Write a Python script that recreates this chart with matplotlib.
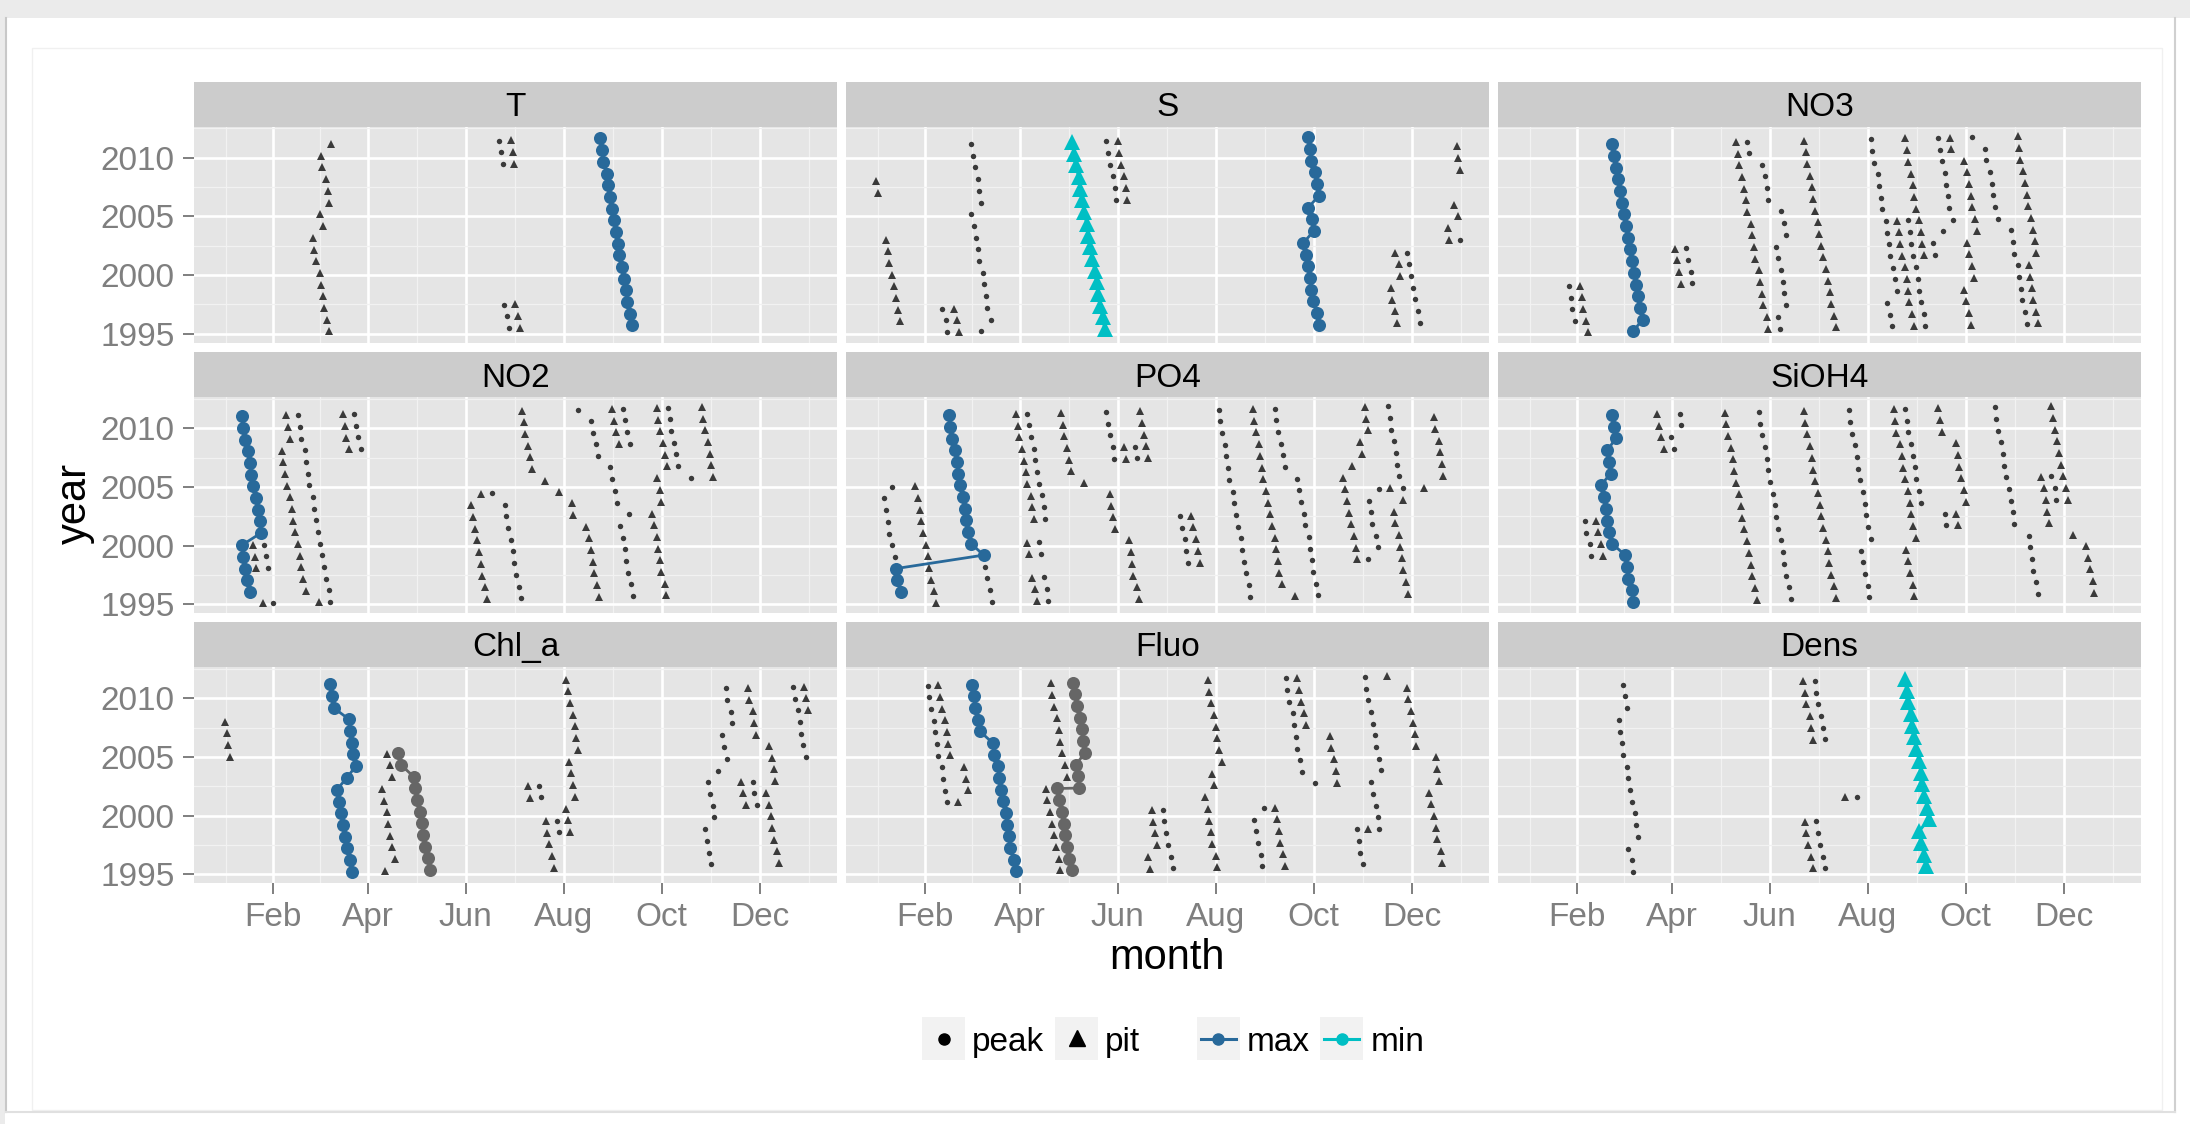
import matplotlib
matplotlib.use("Agg")
import matplotlib.pyplot as plt
from matplotlib.patches import Rectangle

plt.rcParams['font.family'] = ['Liberation Sans', 'DejaVu Sans']

# ---------------------------------------------------------------- data
# x = day of year of the event, y = year + fraction of the year.
# Each run: (kind, year of first (top) point, day-of-year of each point, one per year going down)
T_runs = [
    ('pit', 2011, [67.8, 62.0, 62.8, 64.9, 66.0, 67.1, 61.0, 63.1, 56.7, 57.8, 58.8, 61.0, 62.0, 63.1, 63.8, 65.6, 66.7]),
    ('peak', 2011, [172.9, 174.0, 175.1]),
    ('pit', 2011, [180.1, 181.2, 182.2]),
    ('peak', 1997, [175.8, 177.6, 178.7]),
    ('pit', 1997, [182.6, 184.7, 185.8]),
]
T_max = [(2011, [235.9, 236.6, 237.7, 239.8, 240.9, 241.6, 243.0, 244.5, 245.5, 246.6, 247.7, 249.1, 250.6, 251.6, 252.7, 254.5, 255.6])]

S_runs = [
    ('pit', 2008, [1.7, 2.8]),
    ('pit', 2003, [7.8, 8.9, 9.7, 11.7, 12.8, 13.9, 15.0, 16.7]),
    ('peak', 1997, [42.8, 44.8, 45.9]),
    ('pit', 1997, [50.1, 52.0, 53.1]),
    ('peak', 2011, [60.9, 62.0, 62.9, 64.8, 65.9, 67.1, 60.9, 62.6, 63.7, 64.8, 65.9, 67.9, 69.0, 69.8, 70.7, 72.9, 67.1]),
    ('peak', 2011, [145.0, 145.8, 146.9, 148.8, 150.0, 150.8]),
    ('pit', 2011, [151.9, 153.0, 154.1, 155.8, 156.9, 158.0]),
    ('pit', 2001, [324.7, 326.9, 328.0, 321.9, 322.7, 324.7, 326.1]),
    ('peak', 2001, [331.9, 333.6, 334.7, 335.8, 336.9, 338.9, 340.0]),
    ('pit', 2010, [363.1, 363.9, 365.0]),
    ('pit', 2005, [361.7, 363.9, 357.8, 358.6]),
    ('peak', 2002, [365.0]),
]
S_min = [(2011, [123.8, 124.6, 125.8, 127.7, 128.8, 129.9, 131.0, 132.7, 133.8, 134.9, 136.0, 137.7, 138.8, 139.7, 140.8, 142.7, 143.8])]
S_max = [(2011, [270.7, 271.8, 272.6, 274.9, 276.0, 277.1, 270.7, 272.9, 274.0, 267.6, 269.0, 270.7, 271.8, 272.6, 273.5, 276.0, 277.1])]

NO3_runs = [
    ('peak', 1999, [27.0, 28.1, 28.9, 30.9]),
    ('pit', 1999, [33.9, 35.1, 35.9, 37.8, 39.0]),
    ('pit', 2002, [93.0, 94.1, 95.8, 96.9]),
    ('peak', 2002, [100.0, 101.1, 103.0, 103.9]),
    ('pit', 2011, [131.1, 132.3, 133.1, 135.0, 136.2, 137.0, 138.1, 140.1, 141.2, 142.0, 143.1, 145.1, 146.2, 147.0, 148.1, 150.1, 150.9]),
    ('peak', 2011, [138.1, 139.2]),
    ('peak', 2009, [147.0, 149.0, 150.1, 150.9]),
    ('peak', 2005, [159.0, 160.9, 162.1]),
    ('peak', 2002, [155.9, 157.0, 159.0, 160.1, 160.9, 162.1]),
    ('peak', 1996, [157.0, 158.2]),
    ('pit', 2011, [173.2, 174.3, 175.1, 177.1, 178.2, 179.0, 180.2, 182.1, 182.9, 184.1, 185.2, 187.1, 188.2, 189.4, 190.2, 192.1, 193.3]),
    ('peak', 2011, [215.3, 215.8, 217.2, 219.2, 220.3, 221.1, 221.9]),
    ('peak', 2004, [224.2, 225.0, 226.1, 226.9, 228.9, 230.0, 231.1]),
    ('pit', 2004, [231.1, 232.2, 233.4, 234.2, 236.1, 237.3, 238.1]),
    ('peak', 2004, [238.1, 239.2, 240.0, 241.2, 243.1, 244.2, 245.1]),
    ('pit', 2004, [245.1, 246.2, 247.0, 248.1]),
    ('peak', 2002, [253.9, 255.1]),
    ('peak', 1997, [225.3, 226.9, 228.1]),
    ('pit', 1997, [238.9, 240.9, 242.0]),
    ('peak', 1997, [246.2, 247.8, 248.9]),
    ('pit', 2011, [236.1, 237.3, 238.1, 240.0, 241.2, 242.0, 243.1]),
    ('peak', 2011, [257.0, 257.8, 259.0, 260.9, 262.0, 262.8, 263.9, 265.9, 259.8]),
    ('pit', 2011, [264.0, 264.8]),
    ('pit', 2009, [272.9, 275.1, 276.0, 277.1, 277.9, 279.9, 281.0, 275.1, 276.0, 277.9, 279.0, 272.9, 274.0, 276.0, 277.1]),
    ('peak', 2011, [277.9, 286.0, 286.8, 289.1, 290.2, 291.0, 292.1, 294.0]),
    ('pit', 2011, [306.3, 307.2, 308.0, 310.0, 311.0, 312.2, 313.0, 315.0, 316.1, 316.9, 318.0]),
    ('peak', 2003, [302.1, 303.2, 304.1]),
    ('peak', 2000, [306.3, 307.2, 308.3, 309.1, 311.1, 312.2]),
    ('pit', 2000, [313.3, 314.1, 315.2, 316.1, 318.0, 319.1]),
]
NO3_max = [(2011, [53.7, 54.8, 56.0, 57.6, 58.7, 59.9, 61.0, 62.6, 64.0, 64.9, 66.0, 67.6, 68.8, 69.9, 71.0, 72.9, 66.8])]

NO2_runs = [
    ('pit', 2000, [19.6, 20.7, 21.7]),
    ('peak', 2000, [26.6, 27.7, 28.8]),
    ('pit', 1995, [25.5]),
    ('peak', 1995, [32.3]),
    ('pit', 2011, [40.1, 41.5, 42.8, 37.4, 38.5, 39.6, 40.6, 42.5, 43.6, 44.4, 45.5, 47.4, 48.5, 49.6, 50.6, 52.5, 60.4]),
    ('peak', 2011, [47.4, 48.5, 49.6, 51.7, 52.5, 53.6, 54.7, 56.6, 57.7, 58.7, 59.8, 61.4, 62.5, 63.6, 64.7, 66.6, 67.6]),
    ('pit', 2011, [75.7, 76.6, 77.6, 79.5]),
    ('peak', 2011, [82.5, 83.6, 84.7, 86.5]),
    ('pit', 2004, [161.3, 155.1, 156.5, 157.6, 159.2, 160.3, 161.3, 162.4, 164.3, 165.4]),
    ('peak', 2004, [168.1]),
    ('peak', 2003, [176.2, 177.3, 178.3, 180.1, 181.3, 182.1, 183.1, 185.1, 186.2]),
    ('pit', 2011, [187.3, 188.1, 189.1, 191.0, 192.1, 193.2, 201.3, 210.2]),
    ('pit', 2003, [218.3, 219.1, 226.9, 228.8, 229.9, 231.0, 232.1, 234.0, 235.0]),
    ('peak', 2011, [222.1, 230.2, 231.0, 232.9, 234.2, 242.1, 243.1, 245.0, 246.1, 253.9, 248.0, 249.9, 251.0, 252.1, 253.1, 255.0, 256.1]),
    ('pit', 2011, [243.1, 244.2, 245.3, 247.2]),
    ('peak', 2011, [250.2, 251.2, 252.3, 254.2]),
    ('pit', 2011, [270.9, 272.0, 273.1, 275.0, 276.1, 277.2]),
    ('peak', 2011, [278.2, 279.1, 280.1, 282.0, 283.1, 284.2]),
    ('pit', 2005, [270.9, 272.8, 273.9, 268.0, 269.1, 270.9, 272.0, 272.8, 273.9, 275.8, 276.9]),
    ('peak', 2005, [292.0]),
    ('pit', 2011, [299.0, 300.0, 300.9, 302.8, 303.9, 305.0, 306.0]),
]
NO2_max = [(2011, [12.6, 13.6, 14.5, 16.3, 17.4, 18.5, 19.6, 21.5, 22.6, 23.6, 24.4, 12.6, 13.6, 14.5, 15.5, 17.4])]

PO4_runs = [
    ('peak', 2005, [11.7, 6.6, 7.7, 8.7, 9.8, 11.7, 13.1]),
    ('pit', 2005, [25.8, 27.7, 28.8, 29.8, 30.6, 32.5, 33.6, 34.7, 35.8, 37.7, 38.8]),
    ('peak', 1998, [69.6, 70.7, 72.6, 73.7]),
    ('pit', 2011, [88.8, 89.6, 90.7, 92.6, 93.7, 94.8, 95.8, 97.7, 98.8, 99.6]),
    ('peak', 2011, [95.6, 96.6, 97.7, 99.6, 100.7, 101.8, 102.9, 104.7, 105.8, 106.7]),
    ('pit', 2000, [95.8, 96.9]),
    ('peak', 2000, [102.9, 104.0]),
    ('pit', 1997, [98.5, 100.7, 101.8]),
    ('peak', 1997, [105.8, 107.7, 108.8]),
    ('pit', 2011, [116.9, 117.7, 118.8, 120.7, 121.5, 122.6, 130.7]),
    ('peak', 2011, [144.8, 145.9, 147.0, 148.9, 149.7]),
    ('pit', 2008, [155.9, 157.0]),
    ('peak', 2008, [162.9, 164.0]),
    ('pit', 2008, [169.9, 171.0]),
    ('pit', 2011, [165.9, 167.0, 168.1]),
    ('pit', 2004, [147.0, 147.8, 148.9, 150.0]),
    ('pit', 2000, [158.9, 160.0, 161.0, 161.8, 164.0, 165.1]),
    ('peak', 2002, [190.8, 191.9, 193.8, 194.8, 195.9]),
    ('pit', 2002, [197.8, 198.9, 200.8, 201.9, 203.0]),
    ('peak', 2011, [214.9, 215.7, 216.8, 218.6, 219.7, 220.8, 221.6, 223.5, 224.6, 225.7, 226.8, 228.7, 229.7, 230.8, 231.6, 233.5, 234.6]),
    ('pit', 2011, [236.2, 237.0, 237.8, 239.7, 240.8, 241.6, 242.7, 244.6, 245.7, 246.8, 247.9, 249.8, 250.8, 251.9, 252.7, 254.6, 262.7]),
    ('peak', 2011, [249.8, 250.8, 251.9, 253.8, 254.9, 256.0, 263.8, 264.9, 266.0, 267.9, 268.9, 270.9, 271.9, 272.7, 273.8, 275.7, 276.8]),
    ('pit', 2011, [306.0, 306.8, 307.9, 303.0, 303.9, 297.9, 292.0, 293.8, 294.9, 296.0, 297.1, 299.0, 300.1, 300.9]),
    ('peak', 2003, [308.7, 309.8, 310.6, 313.1, 313.9, 307.9]),
    ('peak', 2011, [320.2, 321.3, 322.3, 324.0, 325.1, 326.1, 327.2, 329.4]),
    ('peak', 2004, [315.0]),
    ('pit', 2004, [321.8]),
    ('pit', 2003, [329.8, 323.9, 324.7, 326.9, 328.0, 329.1, 329.9, 331.8, 332.8]),
    ('pit', 2010, [348.8, 349.8, 352.0, 352.8, 353.9, 354.7]),
    ('pit', 2004, [342.8]),
]
PO4_max = [(2011, [46.9, 47.7, 48.8, 50.7, 51.7, 52.8, 53.6, 55.8, 56.9, 57.7, 58.8, 60.7, 68.5, 13.9, 14.7, 16.9])]

SiOH4_runs = [
    ('peak', 2002, [37.0, 37.8, 39.8, 40.9]),
    ('pit', 2002, [44.0, 44.8, 46.8, 47.9]),
    ('pit', 2011, [82.1, 83.0, 84.1, 86.0]),
    ('peak', 2011, [96.1, 96.9, 90.8, 92.7]),
    ('pit', 2011, [124.2, 125.0, 126.1, 128.1, 129.2, 130.0, 131.1, 133.1, 134.2, 135.0, 136.2, 138.1, 139.2, 140.1, 141.2, 143.1, 144.0]),
    ('peak', 2011, [145.1, 145.9, 147.0, 149.0, 150.1, 150.9, 152.0, 154.0, 155.1, 156.2, 157.0, 159.0, 160.1, 160.9, 162.1, 164.0, 165.1]),
    ('pit', 2011, [173.2, 174.0, 175.1, 177.1, 178.2, 179.0, 180.2, 182.1, 183.2, 184.1, 185.2, 187.1, 188.2, 189.1, 190.2, 192.1, 193.3]),
    ('peak', 2011, [201.1, 202.2, 203.0, 205.0, 206.1, 206.9, 208.0, 210.0, 211.1, 212.2, 213.0, 215.0, 208.8, 210.0, 211.1, 213.0, 213.9]),
    ('pit', 2011, [229.2, 230.0, 230.9, 233.1, 234.2, 235.0, 236.1, 238.1, 239.2, 240.0, 241.2, 243.1, 237.0, 238.1, 239.2, 241.2, 242.0]),
    ('peak', 2011, [236.1, 237.3, 238.1, 240.0, 241.2, 242.3, 243.1, 245.1, 246.2]),
    ('pit', 2011, [257.0, 258.1, 259.0]),
    ('pit', 2008, [268.2, 269.3, 270.1, 271.2, 272.9, 274.3]),
    ('peak', 2002, [260.9, 262.0]),
    ('pit', 2002, [268.2, 269.0]),
    ('peak', 2011, [292.1, 293.0, 294.1, 296.0, 297.1, 298.2, 299.1, 301.0, 302.1, 303.3, 304.1]),
    ('peak', 2000, [313.3, 314.1, 315.2, 316.1, 318.0, 319.1]),
    ('pit', 2011, [327.2, 328.3, 329.4, 331.1, 332.2, 333.3, 334.5]),
    ('pit', 2005, [320.7, 322.9, 323.8, 324.9, 325.7]),
    ('peak', 2005, [327.2, 329.4, 330.3]),
    ('pit', 2004, [336.4, 337.5]),
    ('pit', 2000, [341.1, 349.2, 350.3, 351.2, 353.1, 354.2]),
]
SiOH4_max = [(2011, [53.7, 55.1, 56.2, 50.9, 51.8, 52.9, 46.8, 49.0, 49.8, 50.9, 51.8, 54.0, 62.1, 63.2, 64.0, 66.0, 66.8])]

Chl_a_runs = [
    ('pit', 2008, [2.0, 3.1, 3.9, 5.2]),
    ('pit', 2005, [102.8, 104.7, 105.8, 99.6, 101.0, 102.8, 103.9, 105.0, 106.1, 108.0, 102.0]),
    ('pit', 2002, [191.0, 192.1]),
    ('peak', 2002, [197.7, 198.8]),
    ('pit', 1999, [201.7, 202.8, 203.9, 205.8, 206.9]),
    ('peak', 1999, [208.8, 209.9]),
    ('pit', 2011, [214.7, 215.8, 216.9, 218.8, 219.9, 220.7, 221.8, 216.6, 217.7, 218.8, 219.9, 214.7, 215.8, 216.9]),
    ('peak', 2010, [313.9, 315.0, 316.9, 318.0, 311.8, 312.8, 315.0, 308.8, 302.8, 303.9, 305.8, 306.9, 300.9, 302.0, 303.4, 304.7]),
    ('pit', 2010, [327.6, 328.7, 330.6, 331.7, 332.8]),
    ('pit', 2002, [323.5, 324.6, 326.5]),
    ('peak', 2002, [330.6, 331.7, 333.6]),
    ('pit', 2005, [340.7, 342.9, 343.9, 344.7, 338.8, 340.7, 341.8, 342.9, 343.9, 345.8, 346.9]),
    ('peak', 2010, [355.8, 356.9, 358.8, 359.9, 361.0, 361.8, 363.9]),
    ('pit', 2010, [362.8, 363.9, 365.0]),
]
Chl_a_max = [(2011, [67.7, 68.8, 69.8, 79.3, 79.8, 80.9, 81.7, 83.6, 77.9, 71.7, 73.1, 74.4, 75.8, 76.9, 77.9, 79.8, 80.9])]
Chl_a_other = [(2005, [109.8, 111.9, 119.5, 120.6, 121.6, 123.8, 124.6, 125.7, 126.8, 128.7, 129.8])]

Fluo_runs = [
    ('peak', 2011, [33.6, 34.7, 35.5, 37.4, 38.5, 39.6, 40.4, 42.5, 43.3, 44.4, 45.5]),
    ('pit', 2011, [40.4, 41.5, 42.5, 44.4, 45.5, 46.3, 47.4, 56.3, 57.4, 58.5, 52.3]),
    ('pit', 2011, [110.3, 111.1, 112.2, 114.1, 115.2, 116.2, 117.3, 119.2, 120.3, 107.1, 108.1, 110.0, 111.1, 112.2, 113.3, 115.2, 116.2]),
    ('pit', 2000, [173.2, 174.0, 175.1, 176.2, 171.0, 172.1]),
    ('peak', 2000, [180.0, 181.0, 182.1, 183.2, 185.1, 186.2]),
    ('pit', 2011, [208.0, 209.1, 210.2, 211.8, 212.9, 214.0, 215.1, 217.0, 211.0, 211.8, 206.2, 208.0, 208.9, 209.9, 211.0, 212.9, 214.0]),
    ('peak', 2000, [243.1, 236.9, 238.0, 239.1, 241.0, 242.1]),
    ('pit', 2000, [250.0, 251.2, 252.3, 253.1, 255.0, 256.1]),
    ('peak', 2011, [256.9, 257.7, 258.8, 261.0, 262.0, 263.1, 263.9, 265.8, 266.9, 275.0]),
    ('pit', 2011, [263.9, 265.0, 266.1, 268.0, 269.1]),
    ('pit', 2006, [283.9, 285.0, 286.9, 288.0, 288.8]),
    ('peak', 2011, [306.1, 306.9, 307.9, 309.8, 310.9, 312.0, 312.8, 315.0, 316.0, 309.8, 310.9, 312.8, 313.9, 315.0]),
    ('pit', 2011, [319.8]),
    ('pit', 1998, [307.9]),
    ('peak', 1998, [301.2, 302.0, 303.1, 305.0]),
    ('pit', 2010, [332.0, 333.0, 334.6, 336.0, 337.1, 337.9]),
    ('pit', 2004, [350.1, 351.1, 352.0, 346.0, 347.1, 348.9, 350.1, 351.1, 353.0, 354.1]),
]
Fluo_max = [(2011, [61.2, 62.2, 63.3, 65.2, 66.3, 74.1, 75.2, 77.4, 78.2, 79.3, 80.3, 82.2, 83.3, 84.1, 85.2, 87.4, 88.4])]
Fluo_other = [(2011, [124.3, 125.4, 126.5, 128.4, 129.5, 130.3, 131.4, 126.2, 127.3, 128.1]),
              (2002, [114.1, 115.4, 117.3, 118.4, 119.2, 120.3, 121.4, 123.3])]

Dens_runs = [
    ('peak', 2011, [60.7, 61.8, 62.9, 57.9, 58.7, 59.9, 60.7, 62.9, 64.0, 64.9, 66.0, 67.9, 69.0, 69.9, 64.0, 66.0, 67.1]),
    ('pit', 2011, [172.9, 174.0, 174.9, 176.8, 177.9, 179.0]),
    ('peak', 2011, [179.9, 181.0, 182.1, 184.1, 185.2, 186.3]),
    ('pit', 1999, [174.0, 174.9, 176.0, 177.9, 179.0]),
    ('peak', 1999, [181.0, 182.1, 183.2, 185.2, 186.3]),
    ('pit', 2001, [199.1]),
    ('peak', 2001, [206.1]),
]
Dens_min = [(2011, [236.1, 237.3, 238.1, 239.8, 240.9, 242.0, 243.1, 245.1, 246.2, 247.0, 248.1, 250.1, 251.2, 245.1, 246.2, 248.1, 249.2])]

panel_names = ['T', 'S', 'NO3', 'NO2', 'PO4', 'SiOH4', 'Chl_a', 'Fluo', 'Dens']
month_ticks = [32, 91, 152, 213, 274, 335]
month_labels = ['Feb', 'Apr', 'Jun', 'Aug', 'Oct', 'Dec']
year_ticks = [1995, 2000, 2005, 2010]
legend_shape_labels = ['peak', 'pit']
legend_colour_labels = ['max', 'min']

point_runs = {'T': T_runs, 'S': S_runs, 'NO3': NO3_runs, 'NO2': NO2_runs, 'PO4': PO4_runs,
              'SiOH4': SiOH4_runs, 'Chl_a': Chl_a_runs, 'Fluo': Fluo_runs, 'Dens': Dens_runs}
line_series = {
    'T': [('max', T_max)], 'S': [('min', S_min), ('max', S_max)], 'NO3': [('max', NO3_max)],
    'NO2': [('max', NO2_max)], 'PO4': [('max', PO4_max)], 'SiOH4': [('max', SiOH4_max)],
    'Chl_a': [('other', Chl_a_other), ('max', Chl_a_max)],
    'Fluo': [('other', Fluo_other), ('max', Fluo_max)], 'Dens': [('min', Dens_min)],
}

# ---------------------------------------------------------------- style
W, H, DPI = 2190, 1124, 100
BLUE, CYAN, GREYL, SMALL = '#28699a', '#00BFC4', '#666666', '#3a3a3a'
LINE_STYLE = {'max': (BLUE, 'o', 9.4), 'min': (CYAN, '^', 11.5), 'other': (GREYL, 'o', 9.4)}
TICK_GREY = '#7F7F7F'

fig = plt.figure(figsize=(W / DPI, H / DPI), dpi=DPI, facecolor='white')


def fx(px):
    return px / W


def fy(py):
    return 1 - py / H


# page decoration (background axes in pixel coordinates)
bg = fig.add_axes([0, 0, 1, 1])
bg.set_xlim(0, W); bg.set_ylim(H, 0); bg.axis('off'); bg.set_zorder(-5)
bg.add_patch(Rectangle((0, 0), W, 18, color='#EBEBEB', lw=0))
bg.add_patch(Rectangle((0, 0), 5, H, color='#EBEBEB', lw=0))
bg.plot([6, 6], [18, 1112], color='#C8C8C8', lw=1.5)
bg.plot([2175, 2175], [18, 1112], color='#D0D0D0', lw=1.5)
bg.plot([6, 2175], [1111.5, 1111.5], color='#E0E0E0', lw=1.5)
bg.add_patch(Rectangle((32, 48), 2130, 1062, fill=False, ec='#F0F0F0', lw=1.0))

col_left = [194, 846, 1498]
row_top = [126.7, 397.3, 667.3]
PW, PH, SH = 643, 216, 45


def expand(runs):
    xs, ys = [], []
    for top, days in runs:
        for i, d in enumerate(days):
            xs.append(d)
            ys.append(top - i + (d - 1) / 365.0)
    return xs, ys


for idx, name in enumerate(panel_names):
    r, c = divmod(idx, 3)
    L, T = col_left[c], row_top[r]
    ax = fig.add_axes([fx(L), fy(T + PH), PW / W, PH / H])
    ax.set_facecolor('#E5E5E5')
    for s in ax.spines.values():
        s.set_visible(False)
    ax.set_xlim(-17.2, 383.2)
    ax.set_ylim(1994.22, 2012.65)
    ax.set_xticks(month_ticks)
    ax.set_xticks([2.5, 61.5, 121.5, 182.5, 243.5, 304.5, 365.5], minor=True)
    ax.set_yticks(year_ticks)
    ax.set_yticks([1997.5, 2002.5, 2007.5, 2012.5], minor=True)
    ax.grid(which='major', color='white', lw=1.9)
    ax.grid(which='minor', color='#F2F2F2', lw=0.9)
    ax.set_axisbelow(True)
    ax.tick_params(which='minor', length=0)
    ax.tick_params(which='major', direction='out', length=8, width=1.4, color=TICK_GREY,
                   labelcolor=TICK_GREY, labelsize=24)
    ax.tick_params(axis='x', pad=5.5)
    ax.tick_params(axis='y', pad=6)
    if r == 2:
        ax.set_xticklabels(month_labels)
    else:
        ax.tick_params(axis='x', length=0, labelbottom=False)
    if c == 0:
        ax.set_yticklabels([str(y) for y in year_ticks])
    else:
        ax.tick_params(axis='y', length=0, labelleft=False)

    # small peak / pit points
    for kind in ('peak', 'pit'):
        runs = [(top, days) for k, top, days in point_runs[name] if k == kind]
        xs, ys = expand(runs)
        if kind == 'peak':
            ax.plot(xs, ys, ls='none', marker='o', ms=3.9, mfc=SMALL, mec=SMALL, mew=0, zorder=3)
        else:
            ax.plot(xs, ys, ls='none', marker='^', ms=5.2, mfc=SMALL, mec=SMALL, mew=0, zorder=3)

    # max / min / other lines
    for key, runs in line_series[name]:
        col, mk, ms = LINE_STYLE[key]
        xs, ys = expand(runs)
        ax.plot(xs, ys, color=col, lw=2.0, zorder=4)
        ax.plot(xs, ys, ls='none', marker=mk, ms=ms, mfc=col, mec=col, mew=0, zorder=5)

    # strip
    sax = fig.add_axes([fx(L), fy(T), PW / W, SH / H])
    sax.set_facecolor('#CCCCCC')
    sax.set_xticks([]); sax.set_yticks([])
    for s in sax.spines.values():
        s.set_visible(False)
    sax.text(0.5, 0.24, name, ha='center', va='baseline', fontsize=24, color='black',
             transform=sax.transAxes)

# axis titles
fig.text(fx(1167), fy(969), 'month', ha='center', va='baseline', fontsize=30)
fig.text(fx(86), fy(503), 'year', ha='center', va='baseline', fontsize=30, rotation=90,
         rotation_mode='anchor')

# legend (overlay in pixel coordinates)
ov = fig.add_axes([0, 0, 1, 1])
ov.set_xlim(0, W); ov.set_ylim(H, 0); ov.axis('off'); ov.set_zorder(10)
key_x = [922, 1055, 1196.5, 1320]
text_x = [972, 1105, 1247, 1371]
KY, KS = 1017, 43
for kx in key_x:
    ov.add_patch(Rectangle((kx, KY), KS, KS, color='#F2F2F2', lw=0))
cy = KY + KS / 2
ov.plot([key_x[0] + KS / 2], [cy], marker='o', ms=8, color='black', ls='none')
ov.plot([key_x[1] + KS / 2], [cy - 1], marker='^', ms=11, color='black', ls='none')
for kx, col in zip(key_x[2:], [BLUE, CYAN]):
    ov.plot([kx + 4, kx + KS - 4], [cy, cy], color=col, lw=2.2)
    ov.plot([kx + KS / 2], [cy], marker='o', ms=8, color=col, ls='none')
for tx, lab in zip(text_x, legend_shape_labels + legend_colour_labels):
    ov.text(tx, 1051, lab, ha='left', va='baseline', fontsize=24, color='black')

fig.savefig('out.png', dpi=DPI, facecolor='white')
